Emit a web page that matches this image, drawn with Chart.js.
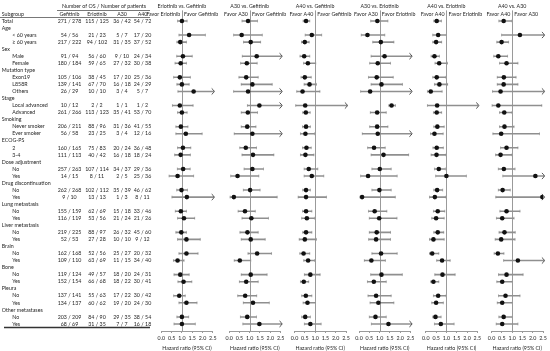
<!DOCTYPE html>
<html>
<head>
<meta charset="utf-8">
<script src="https://cdn.jsdelivr.net/npm/chart.js@4.4.1/dist/chart.umd.min.js"></script>
<style>
  html, body { margin: 0; padding: 0; background: #fff; }
  #wrap { position: relative; width: 550px; height: 351px; overflow: hidden; }
  #wrap canvas { position: absolute; top: 0; }
</style>
</head>
<body>
<div id="wrap"></div>
<script>
// Subgroup rows, top to bottom
const subgroups = ['Total', 'Age', '< 60 years', '\u2265 60 years', 'Sex', 'Male', 'Female',
    'Mutation type', 'Exon19', 'L858R', 'Others', 'Stage', 'Local advanced', 'Advanced',
    'Smoking', 'Never smoker', 'Ever smoker', 'ECOG-PS', '2', '3-4',
    'Dose adjustment', 'No', 'Yes', 'Drug discontinuation', 'No', 'Yes',
    'Lung metastasis', 'No', 'Yes', 'Liver metastasis', 'No', 'Yes',
    'Brain', 'No', 'Yes', 'Bone', 'No', 'Yes', 'Pleura', 'No', 'Yes',
    'Other metastases', 'No', 'Yes'];
const headerRows = [1, 4, 7, 11, 14, 17, 20, 23, 26, 29, 32, 35, 38, 41];

// Number of OS / number of patients (data rows only)
const gefitinibN = ['271 / 278', '54 / 56', '217 / 222', '91 / 94', '180 / 184', '105 / 106', '139 / 141', '26 / 29', '10 / 12', '261 / 266', '206 / 211', '56 / 58', '160 / 165', '111 / 113', '257 / 263', '14 / 15', '262 / 268', '9 / 10', '155 / 159', '116 / 119', '219 / 225', '52 / 53', '162 / 168', '109 / 110', '119 / 124', '152 / 154', '137 / 141', '134 / 137', '203 / 209', '68 / 69'];
const erlotinibN = ['115 / 125', '21 / 23', '94 / 102', '56 / 60', '59 / 65', '38 / 45', '67 / 70', '10 / 10', '2 / 2', '113 / 123', '88 / 96', '23 / 25', '75 / 83', '40 / 42', '107 / 114', '8 / 11', '102 / 112', '13 / 13', '62 / 69', '53 / 56', '88 / 97', '27 / 28', '52 / 56', '63 / 69', '49 / 57', '66 / 68', '55 / 63', '60 / 62', '84 / 90', '31 / 35'];
const a30N = ['36 / 42', '5 / 7', '31 / 35', '9 / 10', '27 / 32', '17 / 20', '16 / 18', '3 / 4', '1 / 1', '35 / 41', '31 / 36', '3 / 4', '20 / 24', '16 / 18', '34 / 37', '2 / 5', '35 / 39', '1 / 3', '15 / 18', '21 / 24', '26 / 32', '10 / 10', '25 / 27', '11 / 15', '18 / 20', '18 / 22', '17 / 22', '19 / 20', '29 / 35', '7 / 7'];
const a40N = ['54 / 72', '17 / 20', '37 / 52', '24 / 34', '30 / 38', '25 / 36', '24 / 29', '5 / 7', '1 / 2', '53 / 70', '41 / 55', '12 / 16', '36 / 48', '18 / 24', '29 / 36', '25 / 36', '46 / 62', '8 / 11', '33 / 46', '21 / 26', '45 / 60', '9 / 12', '20 / 32', '34 / 40', '24 / 31', '30 / 41', '30 / 42', '24 / 30', '38 / 54', '16 / 18'];

// Hazard ratios with 95% CI (upper bounds past 2.5 get an arrow)
const erlVsGefHR = [1.00, 1.35, 0.92, 1.05, 0.94, 0.90, 1.00, 1.57, 0.90, 1.00, 0.95, 1.19, 1.05, 0.94, 1.06, 0.79, 0.98, 1.24, 0.95, 1.10, 0.97, 1.22, 1.22, 0.79, 0.92, 1.08, 0.87, 1.22, 1.00, 1.00];
const erlVsGefLo = [0.79, 0.86, 0.76, 0.75, 0.67, 0.60, 0.76, 0.81, 0.54, 0.79, 0.71, 0.71, 0.79, 0.65, 0.78, 0.38, 0.75, 0.52, 0.68, 0.79, 0.71, 0.79, 0.86, 0.59, 0.62, 0.81, 0.60, 0.86, 0.76, 0.62];
const erlVsGefHi = [1.25, 2.14, 1.22, 1.50, 1.22, 1.41, 1.35, 3.00, 1.54, 1.25, 1.29, 1.98, 1.43, 1.41, 1.40, 1.57, 1.27, 3.00, 1.22, 1.62, 1.22, 1.89, 1.78, 1.10, 1.35, 1.48, 1.16, 1.73, 1.33, 1.65];

const a30VsGefHR = [0.92, 0.61, 1.05, 1.34, 0.86, 0.83, 1.13, 0.92, 1.47, 0.91, 0.88, 1.13, 0.81, 1.16, 1.13, 0.41, 1.02, 0.23, 0.77, 1.08, 0.89, 1.05, 1.36, 0.52, 1.05, 0.83, 0.78, 1.16, 0.88, 1.47];
const a30VsGefLo = [0.63, 0.22, 0.70, 0.64, 0.56, 0.48, 0.59, 0.22, 0.89, 0.59, 0.59, 0.25, 0.52, 0.63, 0.73, 0.08, 0.69, 0.05, 0.44, 0.63, 0.53, 0.59, 0.92, 0.25, 0.59, 0.50, 0.42, 0.69, 0.55, 0.67];
const a30VsGefHi = [1.38, 1.61, 1.53, 3.00, 1.36, 1.41, 2.09, 3.00, 3.00, 1.38, 1.30, 3.00, 1.33, 2.17, 1.67, 1.44, 1.50, 2.33, 1.27, 1.91, 1.41, 1.75, 2.06, 1.05, 1.84, 1.41, 1.34, 1.95, 1.33, 3.00];

const a40VsGefHR = [0.56, 0.84, 0.50, 0.47, 0.65, 0.50, 0.73, 0.39, 0.52, 0.55, 0.56, 0.53, 0.58, 0.53, 0.69, 0.84, 0.56, 0.56, 0.56, 0.60, 0.56, 0.50, 0.44, 0.66, 0.77, 0.45, 0.55, 0.63, 0.52, 0.77];
const a40VsGefLo = [0.42, 0.52, 0.34, 0.27, 0.44, 0.32, 0.47, 0.11, 0.06, 0.40, 0.39, 0.29, 0.39, 0.29, 0.47, 0.47, 0.40, 0.18, 0.39, 0.35, 0.40, 0.23, 0.26, 0.45, 0.48, 0.29, 0.35, 0.42, 0.35, 0.48];
const a40VsGefHi = [0.74, 1.32, 0.71, 0.74, 1.03, 0.81, 1.06, 1.23, 3.00, 0.76, 0.77, 0.97, 0.81, 0.94, 1.13, 1.42, 0.77, 1.55, 0.84, 0.97, 0.84, 1.06, 0.74, 0.97, 1.24, 0.69, 0.84, 1.02, 0.77, 1.29];

const a30VsErlHR = [0.89, 0.41, 1.06, 1.24, 0.91, 0.86, 1.09, 0.54, 1.58, 0.88, 0.88, 0.91, 0.73, 1.19, 1.01, 0.44, 0.99, 0.15, 0.76, 0.98, 0.86, 0.83, 1.07, 0.60, 1.09, 0.72, 0.83, 0.94, 0.80, 1.43];
const a30VsErlLo = [0.57, 0.11, 0.67, 0.59, 0.52, 0.46, 0.59, 0.08, 1.45, 0.55, 0.52, 0.16, 0.42, 0.59, 0.63, 0.08, 0.63, 0.05, 0.46, 0.50, 0.50, 0.47, 0.63, 0.26, 0.57, 0.41, 0.44, 0.54, 0.50, 0.60];
const a30VsErlHi = [1.40, 1.25, 1.69, 3.00, 1.53, 1.66, 2.11, 3.00, 1.77, 1.32, 1.40, 3.00, 1.27, 2.41, 1.56, 1.85, 1.56, 1.76, 1.35, 1.84, 1.53, 1.53, 1.85, 1.28, 2.10, 1.32, 1.56, 1.69, 1.32, 3.00];

const a40VsErlHR = [0.53, 0.60, 0.50, 0.42, 0.65, 0.53, 0.66, 0.24, 0.55, 0.53, 0.56, 0.42, 0.53, 0.52, 0.63, 1.00, 0.55, 0.44, 0.58, 0.50, 0.58, 0.37, 0.31, 0.79, 0.81, 0.37, 0.60, 0.50, 0.47, 0.73];
const a40VsErlLo = [0.39, 0.34, 0.34, 0.26, 0.45, 0.34, 0.42, 0.08, 0.08, 0.37, 0.39, 0.23, 0.35, 0.26, 0.42, 0.48, 0.39, 0.18, 0.37, 0.29, 0.39, 0.18, 0.18, 0.53, 0.44, 0.24, 0.37, 0.29, 0.34, 0.42];
const a40VsErlHi = [0.76, 1.00, 0.77, 0.66, 1.05, 0.97, 1.06, 0.79, 3.00, 0.77, 0.89, 0.84, 0.85, 0.98, 0.95, 1.97, 0.82, 0.97, 0.92, 0.89, 0.87, 0.89, 0.63, 1.18, 1.42, 0.63, 0.98, 0.85, 0.74, 1.37];

const a40VsA30HR = [0.59, 1.38, 0.49, 0.33, 0.73, 0.60, 0.59, 0.44, 0.33, 0.62, 0.63, 0.47, 0.73, 0.44, 0.60, 2.13, 0.54, 2.47, 0.73, 0.52, 0.63, 0.47, 0.31, 1.28, 0.73, 0.52, 0.68, 0.52, 0.59, 0.52];
const a40VsA30Lo = [0.36, 0.49, 0.26, 0.11, 0.39, 0.28, 0.28, 0.05, 0.03, 0.39, 0.39, 0.07, 0.44, 0.20, 0.33, 0.55, 0.33, 0.21, 0.41, 0.24, 0.37, 0.18, 0.13, 0.59, 0.34, 0.26, 0.34, 0.28, 0.36, 0.23];
const a40VsA30Hi = [0.99, 3.00, 0.83, 0.78, 1.28, 1.19, 1.28, 3.00, 2.44, 0.99, 1.09, 2.33, 1.28, 0.99, 1.14, 3.00, 0.91, 3.00, 1.38, 1.09, 1.15, 1.14, 0.60, 3.00, 1.53, 1.01, 1.38, 1.01, 1.01, 1.28];

const axisTicks = [0, 0.5, 1, 1.5, 2, 2.5];

const panels = [
    { title: 'Erlotinib vs. Gefitinib', left: 'Favor Erlotinib', right: 'Favor Gefitinib', hr: erlVsGefHR, lo: erlVsGefLo, hi: erlVsGefHi },
    { title: 'A30 vs. Gefitinib', left: 'Favor A30', right: 'Favor Gefitinib', hr: a30VsGefHR, lo: a30VsGefLo, hi: a30VsGefHi },
    { title: 'A40 vs. Gefitinib', left: 'Favor A40', right: 'Favor Gefitinib', hr: a40VsGefHR, lo: a40VsGefLo, hi: a40VsGefHi },
    { title: 'A30 vs. Erlotinib', left: 'Favor A30', right: 'Favor Erlotinib', hr: a30VsErlHR, lo: a30VsErlLo, hi: a30VsErlHi },
    { title: 'A40 vs. Erlotinib', left: 'Favor A40', right: 'Favor Erlotinib', hr: a40VsErlHR, lo: a40VsErlLo, hi: a40VsErlHi },
    { title: 'A40 vs. A30', left: 'Favor A40', right: 'Favor A30', hr: a40VsA30HR, lo: a40VsA30Lo, hi: a40VsA30Hi }
];

// layout
const FONT = "Lato, 'Liberation Sans', sans-serif";
const FS = 5.3;
const TEXT = '#262626';
const H = 351;
const PAD_TOP = 10.4;
const AXIS_H = 20;
const panelX0 = [161.3, 229.1, 294.5, 359.0, 425.8, 491.5];
const PX_PER_UNIT = 20.6;
const X_MAX = 2.5;

Chart.defaults.font.family = FONT;
Chart.defaults.font.size = FS;
Chart.defaults.color = TEXT;

const dataRows = subgroups.map((s, i) => i).filter(i => !headerRows.includes(i));
const wrap = document.getElementById('wrap');

function addCanvas(left, width) {
    const c = document.createElement('canvas');
    c.width = width;
    c.height = H;
    c.style.left = left + 'px';
    c.style.width = width + 'px';
    c.style.height = H + 'px';
    wrap.appendChild(c);
    return c.getContext('2d');
}

function rowScale() {
    return { type: 'linear', min: -1.5, max: 44, reverse: true, display: false };
}

// ---- left table ----
const tablePlugin = {
    id: 'table',
    afterDraw(chart) {
        const { ctx, scales: { y } } = chart;
        const cols = [69.5, 97, 122, 142.5];
        const colNames = ['Gefitinib', 'Erlotinib', 'A30', 'A40'];
        const counts = [gefitinibN, erlotinibN, a30N, a40N];
        ctx.save();
        ctx.font = FS + 'px ' + FONT;
        ctx.fillStyle = TEXT;
        ctx.textBaseline = 'middle';
        ctx.textAlign = 'center';
        ctx.fillText('Number of OS / Number of patients', 104, y.getPixelForValue(-2.1));
        colNames.forEach((n, k) => ctx.fillText(n, cols[k], y.getPixelForValue(-1)));
        ctx.textAlign = 'left';
        ctx.fillText('Subgroup', 1.7, y.getPixelForValue(-1));

        subgroups.forEach((label, i) => {
            const isSub = i > 0 && !headerRows.includes(i);
            ctx.textAlign = 'left';
            ctx.fillText(label, isSub ? 12.3 : 1.7, y.getPixelForValue(i));
        });
        ctx.textAlign = 'center';
        dataRows.forEach((row, j) => {
            counts.forEach((arr, k) => ctx.fillText(arr[j], cols[k], y.getPixelForValue(row)));
        });

        ctx.strokeStyle = '#555';
        ctx.lineWidth = 0.8;
        let ly = Math.round(y.getPixelForValue(-1.6)) + 0.5;
        ctx.beginPath(); ctx.moveTo(57, ly); ctx.lineTo(150, ly); ctx.stroke();
        ly = Math.round(y.getPixelForValue(-0.5)) + 0.5;
        ctx.beginPath(); ctx.moveTo(0, ly); ctx.lineTo(150, ly); ctx.stroke();
        ctx.strokeStyle = '#333';
        ctx.lineWidth = 1.4;
        ly = y.getPixelForValue(43.5);
        ctx.beginPath(); ctx.moveTo(4, ly); ctx.lineTo(150, ly); ctx.stroke();
        ctx.restore();
    }
};

new Chart(addCanvas(0, 156), {
    type: 'scatter',
    data: { datasets: [] },
    options: {
        responsive: false,
        animation: false,
        events: [],
        layout: { padding: { top: PAD_TOP, bottom: AXIS_H, left: 0, right: 0 } },
        plugins: { legend: { display: false }, tooltip: { enabled: false } },
        scales: {
            x: { type: 'linear', min: 0, max: 156, display: false },
            y: rowScale()
        }
    },
    plugins: [tablePlugin]
});

// ---- forest panels ----
const forestPlugin = {
    id: 'forest',
    beforeDatasetsDraw(chart, args, opts) {
        const { ctx, chartArea, scales: { x, y } } = chart;
        const p = panels[opts.index];
        ctx.save();
        // line of no effect
        const px = Math.round(x.getPixelForValue(1)) + 0.5;
        ctx.strokeStyle = '#9a9a9a';
        ctx.lineWidth = 1;
        ctx.beginPath(); ctx.moveTo(px, chartArea.top); ctx.lineTo(px, chartArea.bottom); ctx.stroke();
        // CI end caps
        ctx.strokeStyle = '#a5a5a5';
        ctx.lineWidth = 0.7;
        dataRows.forEach((row, j) => {
            const yy = y.getPixelForValue(row);
            [p.lo[j], p.hi[j]].forEach(v => {
                if (v > X_MAX) return;
                const xx = x.getPixelForValue(v);
                ctx.beginPath(); ctx.moveTo(xx, yy - 1.5); ctx.lineTo(xx, yy + 1.5); ctx.stroke();
            });
        });
        ctx.restore();
    },
    afterDatasetsDraw(chart, args, opts) {
        const { ctx, scales: { x, y } } = chart;
        const p = panels[opts.index];
        ctx.save();
        ctx.strokeStyle = '#3a3a3a';
        ctx.lineWidth = 0.9;
        dataRows.forEach((row, j) => {
            if (p.hi[j] <= X_MAX) return;
            const yy = y.getPixelForValue(row);
            const xe = x.getPixelForValue(X_MAX) + 1.5;
            ctx.beginPath();
            ctx.moveTo(xe - 2.6, yy - 3);
            ctx.quadraticCurveTo(xe - 0.4, yy - 1.2, xe, yy);
            ctx.quadraticCurveTo(xe - 0.4, yy + 1.2, xe - 2.6, yy + 3);
            ctx.stroke();
        });
        ctx.restore();
    },
    afterDraw(chart, args, opts) {
        const { ctx, scales: { x, y } } = chart;
        const p = panels[opts.index];
        const px = x.getPixelForValue(1);
        ctx.save();
        ctx.font = FS + 'px ' + FONT;
        ctx.fillStyle = TEXT;
        ctx.textBaseline = 'middle';
        ctx.textAlign = 'center';
        ctx.fillText(p.title, px, y.getPixelForValue(-2.1));
        ctx.textAlign = 'right';
        ctx.fillText(p.left, px - 1.8, y.getPixelForValue(-0.95));
        ctx.textAlign = 'left';
        ctx.fillText(p.right, px + 2.2, y.getPixelForValue(-0.95));
        ctx.restore();
    }
};

panels.forEach((p, idx) => {
    const padL = 30;
    const width = 92;
    const left = Math.floor(panelX0[idx]) - padL;
    const padLeft = panelX0[idx] - left;
    const padRight = width - padLeft - PX_PER_UNIT * X_MAX;

    const points = dataRows.map((row, j) => ({ x: p.hr[j], y: row }));
    const bars = dataRows.map((row, j) => ({ x: [p.lo[j], p.hi[j]], y: row }));

    new Chart(addCanvas(left, width), {
        type: 'bar',
        data: {
            datasets: [
                {
                    type: 'scatter',
                    data: points,
                    pointRadius: 2.3,
                    pointBackgroundColor: '#111',
                    pointBorderWidth: 0,
                    order: 0
                },
                {
                    type: 'bar',
                    data: bars,
                    backgroundColor: '#8f8f8f',
                    borderWidth: 0,
                    barThickness: 0.9,
                    grouped: false,
                    clip: { left: 0, right: 1, top: false, bottom: false },
                    order: 1
                }
            ]
        },
        options: {
            indexAxis: 'y',
            responsive: false,
            animation: false,
            events: [],
            layout: { padding: { top: PAD_TOP, bottom: 0, left: padLeft, right: padRight } },
            plugins: {
                legend: { display: false },
                tooltip: { enabled: false },
                forest: { index: idx }
            },
            scales: {
                x: {
                    type: 'linear',
                    min: 0,
                    max: X_MAX,
                    afterFit: s => { s.height = AXIS_H; },
                    afterBuildTicks: s => { s.ticks = axisTicks.map(v => ({ value: v })); },
                    border: { color: '#9a9a9a', width: 1 },
                    grid: { drawOnChartArea: false, drawTicks: true, tickLength: 2, color: '#9a9a9a' },
                    ticks: {
                        callback: v => v.toFixed(1),
                        font: { size: FS },
                        color: TEXT,
                        padding: 2.5,
                        maxRotation: 0,
                        autoSkip: false
                    },
                    title: {
                        display: true,
                        text: 'Hazard ratio (95% CI)',
                        font: { size: FS },
                        color: TEXT,
                        padding: { top: 0, bottom: 0 }
                    }
                },
                y: Object.assign(rowScale(), { offset: false })
            }
        },
        plugins: [forestPlugin]
    });
});
</script>
</body>
</html>
